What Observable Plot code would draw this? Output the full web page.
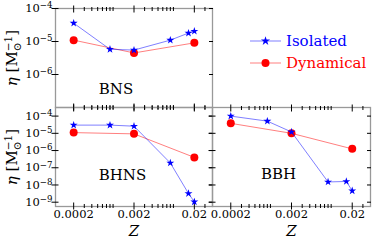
<!DOCTYPE html>
<html><head><meta charset="utf-8">
<script src="https://cdn.jsdelivr.net/npm/d3@7"></script>
<script src="https://cdn.jsdelivr.net/npm/@observablehq/plot@0.6"></script>
<style>
body{margin:0;background:#fff;}
#wrap{position:relative;width:374px;height:242px;font-family:"DejaVu Serif",serif;overflow:hidden;}
#wrap svg.panel{position:absolute;left:0;top:0;overflow:visible;}
.ylab{position:absolute;white-space:nowrap;font-size:15px;transform:translate(-50%,-50%) rotate(-90deg);line-height:1;}
.ms{display:inline-block;vertical-align:-0.42em;line-height:0.85;font-size:10.5px;text-align:left;}
.ms span{display:block;}
#legend{position:absolute;left:249px;top:30px;font-size:15px;}
#legend .row{display:flex;align-items:center;height:22px;}
#legend .row span{margin-left:4px;}
</style></head>
<body><div id="wrap"></div>
<script>
// ---- data ----
const zIso = [0.0002, 0.0008, 0.002, 0.008, 0.016, 0.02];
const zDyn = [0.0002, 0.002, 0.02];
const bnsIso  = [3.6e-5, 5.8e-6, 5.5e-6, 1.1e-5, 1.8e-5, 2.05e-5];
const bnsDyn  = [1.1e-5, 4.5e-6, 9.1e-6];
const bhnsIso = [3.0e-5, 3.0e-5, 2.6e-5, 1.9e-7, 3.2e-9, 1.05e-9];
const bhnsDyn = [1.1e-5, 9.3e-6, 4.0e-7];
const bbhIso  = [1.0e-4, 5.1e-5, 1.2e-5, 1.5e-8, 1.6e-8, 4.6e-9];
const bbhDyn  = [3.8e-5, 1.0e-5, 1.25e-6];
const xMajor = [0.0002, 0.002, 0.02];
const xMinor = [3e-4,4e-4,5e-4,6e-4,7e-4,8e-4,9e-4,3e-3,4e-3,5e-3,6e-3,7e-3,8e-3,9e-3,3e-2];
const yTicksTop = [1e-6, 1e-5, 1e-4];
const yTicksBottom = [1e-9, 1e-8, 1e-7, 1e-6, 1e-5, 1e-4];
const seriesNames = ["Isolated", "Dynamical"];
const seriesColors = ["#0000ff", "#ff0000"];
const panelNames = ["BNS", "BHNS", "BBH"];

// ---- layout ----
const W = 374, H = 242;
const panels = [
  {name: panelNames[0], iso: bnsIso, dyn: bnsDyn, L: 55, R: 212, T: 8, B: 107, yDomain: [1e-7, 1e-4], yTicks: yTicksTop, xLabels: false, yLabels: true, lx: 60.5, ly: 81},
  {name: panelNames[1], iso: bhnsIso, dyn: bhnsDyn, L: 55, R: 212, T: 107, B: 206, yDomain: [10 ** -9.25, 10 ** -3.5], yTicks: yTicksBottom, xLabels: true, yLabels: true, lx: 67, ly: 68},
  {name: panelNames[2], iso: bbhIso, dyn: bbhDyn, L: 212, R: 370, T: 107, B: 206, yDomain: [10 ** -9.25, 10 ** -3.5], yTicks: yTicksBottom, xLabels: true, yLabels: false, lx: 66, ly: 67}
];

const wrap = document.getElementById("wrap");
const blank = () => "";

for (const p of panels) {
  const isoData = zIso.map((z, i) => ({metal: z, eta: p.iso[i]}));
  const dynData = zDyn.map((z, i) => ({metal: z, eta: p.dyn[i]}));
  const marks = [
    Plot.frame({stroke: "#999", strokeWidth: 1.3}),
    Plot.axisY({anchor: "left", ticks: p.yTicks, tickSize: 7, dx: 3.5, tickFormat: blank, label: null}),
    Plot.axisY({anchor: "right", ticks: p.yTicks, tickSize: 4, dx: -4, tickFormat: blank, label: null}),
    Plot.axisX({anchor: "top", ticks: xMajor, tickSize: 7, dy: 3.5, tickFormat: blank, label: null}),
    Plot.axisX({anchor: "top", ticks: xMinor, tickSize: 4, dy: 2, tickFormat: blank, label: null}),
    Plot.axisX({anchor: "bottom", ticks: xMajor, tickSize: 7, dy: -3.5, tickFormat: blank, label: null}),
    Plot.axisX({anchor: "bottom", ticks: xMinor, tickSize: 4, dy: -2, tickFormat: blank, label: null}),
  ];
  if (p.yLabels) {
    marks.push(Plot.axisY({anchor: "left", ticks: p.yTicks, tickSize: 0, tickPadding: 3, tickFormat: d => "10^" + Math.round(Math.log10(d)), label: null}));
  }
  if (p.xLabels) {
    marks.push(Plot.axisX({anchor: "bottom", ticks: xMajor, tickSize: 0, tickPadding: 3, tickFormat: d => String(d), label: null}));
    marks.push(Plot.text(["Z"], {text: d => d, frameAnchor: "bottom", dy: 25, fontStyle: "italic", fontSize: 15, lineAnchor: "middle"}));
  }
  marks.push(
    Plot.line(dynData, {x: "metal", y: "eta", stroke: seriesColors[1], strokeOpacity: 0.5, strokeWidth: 1}),
    Plot.dot(dynData, {x: "metal", y: "eta", fill: seriesColors[1], r: 4}),
    Plot.line(isoData, {x: "metal", y: "eta", stroke: seriesColors[0], strokeOpacity: 0.5, strokeWidth: 1}),
    Plot.dot(isoData, {x: "metal", y: "eta", symbol: "star", fill: seriesColors[0], r: 2.5}),
    Plot.text([p.name], {text: d => d, frameAnchor: "top-left", dx: p.lx, dy: p.ly, fontSize: 15, textAnchor: "middle", lineAnchor: "middle"})
  );
  const svg = Plot.plot({
    width: W, height: H,
    marginLeft: p.L, marginRight: W - p.R, marginTop: p.T, marginBottom: H - p.B,
    x: {type: "log", domain: [1e-4, 0.04], label: null},
    y: {type: "log", domain: p.yDomain, label: null},
    style: {fontFamily: "DejaVu Serif", fontSize: "11.5px", background: "transparent", color: "#000"},
    marks
  });
  svg.classList.add("panel");
  d3.select(svg).selectAll("text").each(function() {
    const m = /^10\^(-?\d+)$/.exec(this.textContent);
    if (m) {
      this.textContent = "";
      const t = d3.select(this);
      t.append("tspan").text("10");
      t.append("tspan").attr("dy", "-0.45em").attr("font-size", "0.75em").text(m[1].replace("-", "\u2212"));
    }
  });
  wrap.appendChild(svg);
}

// y labels
for (const cy of [57.5, 156.5]) {
  const d = document.createElement("div");
  d.className = "ylab";
  d.style.left = "13px";
  d.style.top = cy + "px";
  d.innerHTML = '<i>\u03b7</i> [M<span class="ms"><span>\u22121</span><span>\u2299</span></span>]';
  wrap.appendChild(d);
}

// legend
const leg = document.createElement("div");
leg.id = "legend";
const star = d3.symbol().type(d3.symbolStar).size(26)();
seriesNames.forEach((name, i) => {
  const row = document.createElement("div");
  row.className = "row";
  row.style.color = seriesColors[i];
  const marker = i === 0 ? `<path d="${star}" transform="translate(16.5,6)" fill="${seriesColors[i]}"/>`
                         : `<circle cx="16.5" cy="6" r="4" fill="${seriesColors[i]}"/>`;
  row.innerHTML = `<svg width="33" height="12"><line x1="1" x2="32" y1="6" y2="6" stroke="${seriesColors[i]}" stroke-opacity="0.5"/>${marker}</svg><span>${name}</span>`;
  leg.appendChild(row);
});
wrap.appendChild(leg);
</script>
</body></html>
